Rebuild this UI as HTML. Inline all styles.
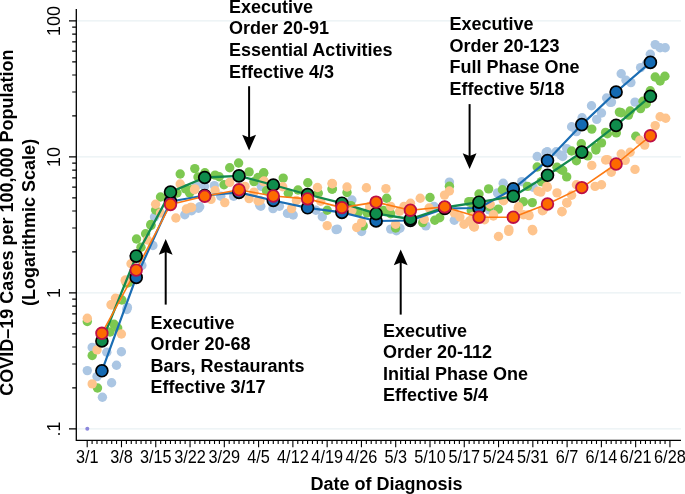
<!DOCTYPE html>
<html><head><meta charset="utf-8"><style>
html,body{margin:0;padding:0;background:#fff;width:685px;height:494px;overflow:hidden}
svg{display:block;will-change:transform}
text{font-family:"Liberation Sans",sans-serif;fill:#000}
.b{font-weight:bold;font-size:18px}
.yl{font-size:18px}
.xl{font-size:18px}
</style></head><body>
<svg width="685" height="494" viewBox="0 0 685 494">

<line x1="77" y1="20.9" x2="681" y2="20.9" stroke="#e9f1f3" stroke-width="1.3"/>
<line x1="77" y1="156.9" x2="681" y2="156.9" stroke="#e9f1f3" stroke-width="1.3"/>
<line x1="77" y1="292.9" x2="681" y2="292.9" stroke="#e9f1f3" stroke-width="1.3"/>
<line x1="77" y1="428.9" x2="681" y2="428.9" stroke="#e9f1f3" stroke-width="1.3"/>
<g fill="#abc6e3"><circle cx="92.2" cy="347.4" r="4.7"/><circle cx="106.8" cy="352.3" r="4.7"/><circle cx="121.4" cy="351.8" r="4.7"/><circle cx="87.3" cy="370.6" r="4.7"/><circle cx="116.5" cy="365.2" r="4.7"/><circle cx="97" cy="376.6" r="4.7"/><circle cx="111.6" cy="382.7" r="4.7"/><circle cx="102.4" cy="397.3" r="4.7"/><circle cx="126.8" cy="309.5" r="4.7"/><circle cx="152.9" cy="245.5" r="4.7"/><circle cx="141.9" cy="265.5" r="4.7"/><circle cx="127.4" cy="307.4" r="4.7"/><circle cx="154.5" cy="217" r="4.7"/><circle cx="184.8" cy="214.8" r="4.7"/><circle cx="198.5" cy="208.3" r="4.7"/><circle cx="214.3" cy="185.6" r="4.7"/><circle cx="196.5" cy="185.5" r="4.7"/><circle cx="204.5" cy="186.5" r="4.7"/><circle cx="220.8" cy="196.2" r="4.7"/><circle cx="199.7" cy="206.7" r="4.7"/><circle cx="191.6" cy="210.7" r="4.7"/><circle cx="233.7" cy="196.2" r="4.7"/><circle cx="259.6" cy="205" r="4.7"/><circle cx="261.3" cy="186.4" r="4.7"/><circle cx="260.8" cy="206.2" r="4.7"/><circle cx="273" cy="208.6" r="4.7"/><circle cx="279.4" cy="206.2" r="4.7"/><circle cx="287.5" cy="213.4" r="4.7"/><circle cx="293.2" cy="215" r="4.7"/><circle cx="322.3" cy="216.7" r="4.7"/><circle cx="336.1" cy="229.6" r="4.7"/><circle cx="315.9" cy="210.2" r="4.7"/><circle cx="351.9" cy="200" r="4.7"/><circle cx="337.3" cy="229.1" r="4.7"/><circle cx="361.6" cy="231.5" r="4.7"/><circle cx="390.7" cy="229.1" r="4.7"/><circle cx="396.4" cy="230.7" r="4.7"/><circle cx="378.6" cy="221.8" r="4.7"/><circle cx="449.4" cy="182.1" r="4.7"/><circle cx="434" cy="206.4" r="4.7"/><circle cx="454.3" cy="220.2" r="4.7"/><circle cx="425.9" cy="225.9" r="4.7"/><circle cx="400" cy="228.3" r="4.7"/><circle cx="537.2" cy="156.5" r="4.7"/><circle cx="546.1" cy="152.4" r="4.7"/><circle cx="503.2" cy="183.2" r="4.7"/><circle cx="521.8" cy="181.6" r="4.7"/><circle cx="497.5" cy="192.9" r="4.7"/><circle cx="533.2" cy="187.2" r="4.7"/><circle cx="489.4" cy="209.9" r="4.7"/><circle cx="471.6" cy="208.3" r="4.7"/><circle cx="591.5" cy="105.7" r="4.7"/><circle cx="610.4" cy="102.4" r="4.7"/><circle cx="601.5" cy="113" r="4.7"/><circle cx="596.7" cy="119.4" r="4.7"/><circle cx="582.1" cy="117.8" r="4.7"/><circle cx="571.6" cy="126.7" r="4.7"/><circle cx="576.4" cy="131.6" r="4.7"/><circle cx="566.7" cy="148.6" r="4.7"/><circle cx="561" cy="155.1" r="4.7"/><circle cx="547.3" cy="151.8" r="4.7"/><circle cx="556.2" cy="151.8" r="4.7"/><circle cx="562.7" cy="156.5" r="4.7"/><circle cx="655.2" cy="44.6" r="4.7"/><circle cx="660.1" cy="47.8" r="4.7"/><circle cx="665.2" cy="47.8" r="4.7"/><circle cx="650.3" cy="54.3" r="4.7"/><circle cx="640.6" cy="67.6" r="4.7"/><circle cx="646.3" cy="64" r="4.7"/><circle cx="621.2" cy="73.7" r="4.7"/><circle cx="626" cy="80.2" r="4.7"/><circle cx="630.9" cy="82.6" r="4.7"/><circle cx="606.6" cy="98" r="4.7"/><circle cx="611.5" cy="102.1" r="4.7"/><circle cx="635" cy="102.1" r="4.7"/></g>
<g fill="#7dc851"><circle cx="87.3" cy="321.5" r="4.7"/><circle cx="110" cy="332" r="4.7"/><circle cx="92.2" cy="355.5" r="4.7"/><circle cx="97.5" cy="388" r="4.7"/><circle cx="114" cy="324.3" r="4.7"/><circle cx="117.7" cy="328" r="4.7"/><circle cx="151" cy="225.5" r="4.7"/><circle cx="145.6" cy="233.7" r="4.7"/><circle cx="136.5" cy="239" r="4.7"/><circle cx="141" cy="247.3" r="4.7"/><circle cx="128.3" cy="282.8" r="4.7"/><circle cx="121.9" cy="300" r="4.7"/><circle cx="126.4" cy="283" r="4.7"/><circle cx="180.2" cy="174" r="4.7"/><circle cx="194.8" cy="168.6" r="4.7"/><circle cx="177" cy="193" r="4.7"/><circle cx="198" cy="177" r="4.7"/><circle cx="479" cy="194" r="4.7"/><circle cx="185.6" cy="188.9" r="4.7"/><circle cx="189.6" cy="193" r="4.7"/><circle cx="160.5" cy="197" r="4.7"/><circle cx="155.6" cy="210" r="4.7"/><circle cx="150.8" cy="224.5" r="4.7"/><circle cx="204.9" cy="172.7" r="4.7"/><circle cx="215.1" cy="175.1" r="4.7"/><circle cx="219.2" cy="176.7" r="4.7"/><circle cx="229.7" cy="167.8" r="4.7"/><circle cx="238.6" cy="163" r="4.7"/><circle cx="249.1" cy="171.9" r="4.7"/><circle cx="263.7" cy="172.7" r="4.7"/><circle cx="254" cy="181.6" r="4.7"/><circle cx="258" cy="177.5" r="4.7"/><circle cx="224" cy="184.8" r="4.7"/><circle cx="191.6" cy="189.7" r="4.7"/><circle cx="263.6" cy="173.3" r="4.7"/><circle cx="283.2" cy="178.1" r="4.7"/><circle cx="307.8" cy="182.7" r="4.7"/><circle cx="298" cy="190" r="4.7"/><circle cx="288.3" cy="193.2" r="4.7"/><circle cx="318.3" cy="193.2" r="4.7"/><circle cx="332" cy="189.1" r="4.7"/><circle cx="327.2" cy="210.2" r="4.7"/><circle cx="266.5" cy="190.8" r="4.7"/><circle cx="332.4" cy="189" r="4.7"/><circle cx="347" cy="192.5" r="4.7"/><circle cx="386.7" cy="198.3" r="4.7"/><circle cx="351" cy="205.6" r="4.7"/><circle cx="358.3" cy="212.1" r="4.7"/><circle cx="367.2" cy="212.9" r="4.7"/><circle cx="383.4" cy="210.5" r="4.7"/><circle cx="390.7" cy="213.7" r="4.7"/><circle cx="363.2" cy="225.9" r="4.7"/><circle cx="395.6" cy="228" r="4.7"/><circle cx="449.4" cy="186.2" r="4.7"/><circle cx="430" cy="197.5" r="4.7"/><circle cx="468.8" cy="201.6" r="4.7"/><circle cx="434.8" cy="220.2" r="4.7"/><circle cx="439.7" cy="217.8" r="4.7"/><circle cx="422.7" cy="222.6" r="4.7"/><circle cx="471.3" cy="210.5" r="4.7"/><circle cx="537.2" cy="167" r="4.7"/><circle cx="488.6" cy="188.9" r="4.7"/><circle cx="527.5" cy="186.4" r="4.7"/><circle cx="502.4" cy="189.7" r="4.7"/><circle cx="541.3" cy="181.6" r="4.7"/><circle cx="523.4" cy="201.8" r="4.7"/><circle cx="532.3" cy="202.6" r="4.7"/><circle cx="498.3" cy="209.1" r="4.7"/><circle cx="489.4" cy="206.7" r="4.7"/><circle cx="471.6" cy="201.8" r="4.7"/><circle cx="591.8" cy="129.1" r="4.7"/><circle cx="619.4" cy="112.1" r="4.7"/><circle cx="605.6" cy="132.4" r="4.7"/><circle cx="601.5" cy="142.9" r="4.7"/><circle cx="595.9" cy="147.8" r="4.7"/><circle cx="581.3" cy="143.7" r="4.7"/><circle cx="571.6" cy="151" r="4.7"/><circle cx="587.8" cy="155.9" r="4.7"/><circle cx="576.4" cy="160.7" r="4.7"/><circle cx="557" cy="167.2" r="4.7"/><circle cx="562.7" cy="170.4" r="4.7"/><circle cx="566.7" cy="176.9" r="4.7"/><circle cx="561" cy="169.4" r="4.7"/><circle cx="542.4" cy="181.6" r="4.7"/><circle cx="595.9" cy="150" r="4.7"/><circle cx="655.2" cy="77" r="4.7"/><circle cx="664.9" cy="76.2" r="4.7"/><circle cx="660.1" cy="81" r="4.7"/><circle cx="650.3" cy="90.7" r="4.7"/><circle cx="643" cy="101.3" r="4.7"/><circle cx="621.2" cy="112.7" r="4.7"/><circle cx="630.1" cy="111" r="4.7"/><circle cx="628.5" cy="115.1" r="4.7"/><circle cx="640.6" cy="108.6" r="4.7"/><circle cx="646.3" cy="103.8" r="4.7"/><circle cx="607.4" cy="133.7" r="4.7"/><circle cx="616.3" cy="132.9" r="4.7"/><circle cx="635.8" cy="136.2" r="4.7"/></g>
<g fill="#fec48d"><circle cx="87.3" cy="318.2" r="4.7"/><circle cx="97" cy="349.9" r="4.7"/><circle cx="92.2" cy="383.9" r="4.7"/><circle cx="121.4" cy="334" r="4.7"/><circle cx="111.6" cy="304.9" r="4.7"/><circle cx="116.7" cy="298.8" r="4.7"/><circle cx="125.2" cy="280.6" r="4.7"/><circle cx="147.4" cy="240" r="4.7"/><circle cx="131" cy="263.7" r="4.7"/><circle cx="125.5" cy="280" r="4.7"/><circle cx="115.5" cy="298.3" r="4.7"/><circle cx="111" cy="304.7" r="4.7"/><circle cx="180.2" cy="184" r="4.7"/><circle cx="194.5" cy="189.7" r="4.7"/><circle cx="155.6" cy="204.3" r="4.7"/><circle cx="160.5" cy="213" r="4.7"/><circle cx="186.4" cy="209" r="4.7"/><circle cx="190.4" cy="207.5" r="4.7"/><circle cx="175.9" cy="218" r="4.7"/><circle cx="229.7" cy="182.4" r="4.7"/><circle cx="194.9" cy="188.9" r="4.7"/><circle cx="215.1" cy="190.5" r="4.7"/><circle cx="245" cy="186.4" r="4.7"/><circle cx="254" cy="192.1" r="4.7"/><circle cx="263.7" cy="181.6" r="4.7"/><circle cx="249.1" cy="198.6" r="4.7"/><circle cx="258" cy="201" r="4.7"/><circle cx="224.8" cy="202.6" r="4.7"/><circle cx="191.6" cy="207.5" r="4.7"/><circle cx="211" cy="199.4" r="4.7"/><circle cx="264" cy="181" r="4.7"/><circle cx="282.7" cy="186.7" r="4.7"/><circle cx="317.5" cy="187.5" r="4.7"/><circle cx="332" cy="183.5" r="4.7"/><circle cx="291.6" cy="208.6" r="4.7"/><circle cx="296.4" cy="200.5" r="4.7"/><circle cx="320.7" cy="201.3" r="4.7"/><circle cx="327.2" cy="225.6" r="4.7"/><circle cx="260" cy="200.5" r="4.7"/><circle cx="332.4" cy="183.8" r="4.7"/><circle cx="347" cy="187" r="4.7"/><circle cx="366.4" cy="187.8" r="4.7"/><circle cx="385.9" cy="188.6" r="4.7"/><circle cx="351.9" cy="210.5" r="4.7"/><circle cx="369.7" cy="206.4" r="4.7"/><circle cx="390.7" cy="206.4" r="4.7"/><circle cx="399.6" cy="211.3" r="4.7"/><circle cx="356.7" cy="227.5" r="4.7"/><circle cx="361.6" cy="222.6" r="4.7"/><circle cx="395.6" cy="224.3" r="4.7"/><circle cx="449.4" cy="191" r="4.7"/><circle cx="444.5" cy="195.1" r="4.7"/><circle cx="490.2" cy="204.3" r="4.7"/><circle cx="420.2" cy="198.3" r="4.7"/><circle cx="410.5" cy="203.2" r="4.7"/><circle cx="404" cy="206.4" r="4.7"/><circle cx="429.1" cy="208" r="4.7"/><circle cx="424.3" cy="219.4" r="4.7"/><circle cx="454.3" cy="212.9" r="4.7"/><circle cx="459.9" cy="217" r="4.7"/><circle cx="464" cy="224.3" r="4.7"/><circle cx="473.7" cy="226.7" r="4.7"/><circle cx="469.6" cy="221" r="4.7"/><circle cx="538" cy="191.3" r="4.7"/><circle cx="546.9" cy="186.4" r="4.7"/><circle cx="503.2" cy="200.2" r="4.7"/><circle cx="518.6" cy="206.7" r="4.7"/><circle cx="523.4" cy="214.8" r="4.7"/><circle cx="529.1" cy="215.6" r="4.7"/><circle cx="542.9" cy="209.9" r="4.7"/><circle cx="493.5" cy="214.8" r="4.7"/><circle cx="473.2" cy="225.3" r="4.7"/><circle cx="508.9" cy="229.4" r="4.7"/><circle cx="532.3" cy="229.4" r="4.7"/><circle cx="473.2" cy="216.4" r="4.7"/><circle cx="474.4" cy="227" r="4.7"/><circle cx="498.5" cy="236.5" r="4.7"/><circle cx="508.7" cy="231.4" r="4.7"/><circle cx="532.8" cy="230.7" r="4.7"/><circle cx="562" cy="211.7" r="4.7"/><circle cx="567" cy="203" r="4.7"/><circle cx="493.4" cy="216" r="4.7"/><circle cx="484.6" cy="219.7" r="4.7"/><circle cx="518.2" cy="208" r="4.7"/><circle cx="528.4" cy="214.6" r="4.7"/><circle cx="543" cy="210.2" r="4.7"/><circle cx="503.6" cy="200.7" r="4.7"/><circle cx="591.8" cy="165.4" r="4.7"/><circle cx="605.6" cy="160" r="4.7"/><circle cx="611.3" cy="172.3" r="4.7"/><circle cx="547.3" cy="187.2" r="4.7"/><circle cx="557" cy="192.9" r="4.7"/><circle cx="571.6" cy="195.3" r="4.7"/><circle cx="576.4" cy="184.8" r="4.7"/><circle cx="595.1" cy="186.4" r="4.7"/><circle cx="601.5" cy="184.8" r="4.7"/><circle cx="566.7" cy="202.6" r="4.7"/><circle cx="561.9" cy="211.5" r="4.7"/><circle cx="542.4" cy="210.7" r="4.7"/><circle cx="540.8" cy="192.1" r="4.7"/><circle cx="660.1" cy="116.7" r="4.7"/><circle cx="665.7" cy="118.3" r="4.7"/><circle cx="655.2" cy="125.6" r="4.7"/><circle cx="639.8" cy="140.2" r="4.7"/><circle cx="644.7" cy="145.1" r="4.7"/><circle cx="621.2" cy="154" r="4.7"/><circle cx="630.1" cy="152.3" r="4.7"/><circle cx="625.2" cy="160.4" r="4.7"/><circle cx="607.4" cy="159.6" r="4.7"/><circle cx="635" cy="169.4" r="4.7"/></g>
<circle cx="87.3" cy="428.8" r="2" fill="#8b87dc"/>
<polyline points="101.9,370.8 136.2,277.4 170.5,201.5 204.7,195.5 239.0,192.4 273.3,200.5 307.6,207.8 341.9,212.4 376.1,221.0 410.4,220.5 444.7,208.5 479.0,208.0 513.3,188.9 547.5,160.6 581.8,124.6 616.1,92.0 650.4,62.4" fill="none" stroke="#1a6db4" stroke-width="2.2" stroke-linejoin="round"/>
<polyline points="101.9,341.0 136.2,256.1 170.5,192.1 204.7,177.5 239.0,175.9 273.3,185.0 307.6,194.5 341.9,203.2 376.1,213.7 410.4,219.0 444.7,207.5 479.0,202.2 513.3,196.3 547.5,175.3 581.8,152.1 616.1,125.4 650.4,96.3" fill="none" stroke="#13894e" stroke-width="2.3" stroke-linejoin="round"/>
<polyline points="101.9,333.3 136.2,270.1 170.5,204.5 204.7,196.2 239.0,189.8 273.3,196.0 307.6,198.9 341.9,207.6 376.1,202.1 410.4,210.2 444.7,206.9 479.0,217.2 513.3,217.2 547.5,204.0 581.8,187.6 616.1,164.0 650.4,135.8" fill="none" stroke="#fd7a12" stroke-width="1.6" stroke-linejoin="round"/>
<g fill="#146ab3" stroke="#000" stroke-width="1.7"><circle cx="101.9" cy="370.8" r="5.95"/><circle cx="136.2" cy="277.4" r="5.95"/><circle cx="170.5" cy="201.5" r="5.95"/><circle cx="204.7" cy="195.5" r="5.95"/><circle cx="239.0" cy="192.4" r="5.95"/><circle cx="273.3" cy="200.5" r="5.95"/><circle cx="307.6" cy="207.8" r="5.95"/><circle cx="341.9" cy="212.4" r="5.95"/><circle cx="376.1" cy="221.0" r="5.95"/><circle cx="410.4" cy="220.5" r="5.95"/><circle cx="444.7" cy="208.5" r="5.95"/><circle cx="479.0" cy="208.0" r="5.95"/><circle cx="513.3" cy="188.9" r="5.95"/><circle cx="547.5" cy="160.6" r="5.95"/><circle cx="581.8" cy="124.6" r="5.95"/><circle cx="616.1" cy="92.0" r="5.95"/><circle cx="650.4" cy="62.4" r="5.95"/></g>
<g fill="#0f8c4c" stroke="#000" stroke-width="1.7"><circle cx="101.9" cy="341.0" r="5.95"/><circle cx="136.2" cy="256.1" r="5.95"/><circle cx="170.5" cy="192.1" r="5.95"/><circle cx="204.7" cy="177.5" r="5.95"/><circle cx="239.0" cy="175.9" r="5.95"/><circle cx="273.3" cy="185.0" r="5.95"/><circle cx="307.6" cy="194.5" r="5.95"/><circle cx="341.9" cy="203.2" r="5.95"/><circle cx="376.1" cy="213.7" r="5.95"/><circle cx="410.4" cy="219.0" r="5.95"/><circle cx="444.7" cy="207.5" r="5.95"/><circle cx="479.0" cy="202.2" r="5.95"/><circle cx="513.3" cy="196.3" r="5.95"/><circle cx="547.5" cy="175.3" r="5.95"/><circle cx="581.8" cy="152.1" r="5.95"/><circle cx="616.1" cy="125.4" r="5.95"/><circle cx="650.4" cy="96.3" r="5.95"/></g>
<g fill="#fd6a00" stroke="#bd0f45" stroke-width="1.8"><circle cx="101.9" cy="333.3" r="5.8"/><circle cx="136.2" cy="270.1" r="5.8"/><circle cx="170.5" cy="204.5" r="5.8"/><circle cx="204.7" cy="196.2" r="5.8"/><circle cx="239.0" cy="189.8" r="5.8"/><circle cx="273.3" cy="196.0" r="5.8"/><circle cx="307.6" cy="198.9" r="5.8"/><circle cx="341.9" cy="207.6" r="5.8"/><circle cx="376.1" cy="202.1" r="5.8"/><circle cx="410.4" cy="210.2" r="5.8"/><circle cx="444.7" cy="206.9" r="5.8"/><circle cx="479.0" cy="217.2" r="5.8"/><circle cx="513.3" cy="217.2" r="5.8"/><circle cx="547.5" cy="204.0" r="5.8"/><circle cx="581.8" cy="187.6" r="5.8"/><circle cx="616.1" cy="164.0" r="5.8"/><circle cx="650.4" cy="135.8" r="5.8"/></g>
<path d="M76.3 9 V440.3 H681" fill="none" stroke="#000" stroke-width="1.3"/>
<path d="M72.2 387.96H76.3M72.2 364.01H76.3M72.2 347.02H76.3M72.2 333.84H76.3M72.2 323.07H76.3M72.2 313.97H76.3M72.2 306.08H76.3M72.2 299.12H76.3M72.2 251.96H76.3M72.2 228.01H76.3M72.2 211.02H76.3M72.2 197.84H76.3M72.2 187.07H76.3M72.2 177.97H76.3M72.2 170.08H76.3M72.2 163.12H76.3M72.2 115.96H76.3M72.2 92.01H76.3M72.2 75.02H76.3M72.2 61.84H76.3M72.2 51.07H76.3M72.2 41.97H76.3M72.2 34.08H76.3M72.2 27.12H76.3M69 428.90H76.3M69 292.90H76.3M69 156.90H76.3M69 20.90H76.3" stroke="#000" stroke-width="1.2"/>
<path d="M87.20 440.3V447.2M92.10 440.3V444M96.99 440.3V444M101.89 440.3V444M106.79 440.3V444M111.69 440.3V444M116.58 440.3V444M121.48 440.3V447.2M126.38 440.3V444M131.27 440.3V444M136.17 440.3V444M141.07 440.3V444M145.96 440.3V444M150.86 440.3V444M155.76 440.3V447.2M160.66 440.3V444M165.55 440.3V444M170.45 440.3V444M175.35 440.3V444M180.24 440.3V444M185.14 440.3V444M190.04 440.3V447.2M194.93 440.3V444M199.83 440.3V444M204.73 440.3V444M209.62 440.3V444M214.52 440.3V444M219.42 440.3V444M224.32 440.3V447.2M229.21 440.3V444M234.11 440.3V444M239.01 440.3V444M243.90 440.3V444M248.80 440.3V444M253.70 440.3V444M258.60 440.3V447.2M263.49 440.3V444M268.39 440.3V444M273.29 440.3V444M278.18 440.3V444M283.08 440.3V444M287.98 440.3V444M292.87 440.3V447.2M297.77 440.3V444M302.67 440.3V444M307.56 440.3V444M312.46 440.3V444M317.36 440.3V444M322.26 440.3V444M327.15 440.3V447.2M332.05 440.3V444M336.95 440.3V444M341.84 440.3V444M346.74 440.3V444M351.64 440.3V444M356.54 440.3V444M361.43 440.3V447.2M366.33 440.3V444M371.23 440.3V444M376.12 440.3V444M381.02 440.3V444M385.92 440.3V444M390.81 440.3V444M395.71 440.3V447.2M400.61 440.3V444M405.50 440.3V444M410.40 440.3V444M415.30 440.3V444M420.20 440.3V444M425.09 440.3V444M429.99 440.3V447.2M434.89 440.3V444M439.78 440.3V444M444.68 440.3V444M449.58 440.3V444M454.48 440.3V444M459.37 440.3V444M464.27 440.3V447.2M469.17 440.3V444M474.06 440.3V444M478.96 440.3V444M483.86 440.3V444M488.75 440.3V444M493.65 440.3V444M498.55 440.3V447.2M503.44 440.3V444M508.34 440.3V444M513.24 440.3V444M518.14 440.3V444M523.03 440.3V444M527.93 440.3V444M532.83 440.3V447.2M537.72 440.3V444M542.62 440.3V444M547.52 440.3V444M552.42 440.3V444M557.31 440.3V444M562.21 440.3V444M567.11 440.3V447.2M572.00 440.3V444M576.90 440.3V444M581.80 440.3V444M586.69 440.3V444M591.59 440.3V444M596.49 440.3V444M601.39 440.3V447.2M606.28 440.3V444M611.18 440.3V444M616.08 440.3V444M620.97 440.3V444M625.87 440.3V444M630.77 440.3V444M635.66 440.3V447.2M640.56 440.3V444M645.46 440.3V444M650.36 440.3V444M655.25 440.3V444M660.15 440.3V444M665.05 440.3V444M669.94 440.3V447.2" stroke="#000" stroke-width="1.1"/>
<text class="yl" text-anchor="middle" transform="translate(60,20.9) rotate(-90)">100</text>
<text class="yl" text-anchor="middle" transform="translate(60,156.9) rotate(-90)">10</text>
<text class="yl" text-anchor="middle" transform="translate(60,292.9) rotate(-90)">1</text>
<text class="yl" text-anchor="middle" transform="translate(60,428.9) rotate(-90)">.1</text>
<text class="xl" text-anchor="middle" transform="translate(87.2,463) scale(0.905,1)">3/1</text>
<text class="xl" text-anchor="middle" transform="translate(121.5,463) scale(0.905,1)">3/8</text>
<text class="xl" text-anchor="middle" transform="translate(155.8,463) scale(0.905,1)">3/15</text>
<text class="xl" text-anchor="middle" transform="translate(190.0,463) scale(0.905,1)">3/22</text>
<text class="xl" text-anchor="middle" transform="translate(224.3,463) scale(0.905,1)">3/29</text>
<text class="xl" text-anchor="middle" transform="translate(258.6,463) scale(0.905,1)">4/5</text>
<text class="xl" text-anchor="middle" transform="translate(292.9,463) scale(0.905,1)">4/12</text>
<text class="xl" text-anchor="middle" transform="translate(327.2,463) scale(0.905,1)">4/19</text>
<text class="xl" text-anchor="middle" transform="translate(361.4,463) scale(0.905,1)">4/26</text>
<text class="xl" text-anchor="middle" transform="translate(395.7,463) scale(0.905,1)">5/3</text>
<text class="xl" text-anchor="middle" transform="translate(430.0,463) scale(0.905,1)">5/10</text>
<text class="xl" text-anchor="middle" transform="translate(464.3,463) scale(0.905,1)">5/17</text>
<text class="xl" text-anchor="middle" transform="translate(498.5,463) scale(0.905,1)">5/24</text>
<text class="xl" text-anchor="middle" transform="translate(532.8,463) scale(0.905,1)">5/31</text>
<text class="xl" text-anchor="middle" transform="translate(567.1,463) scale(0.905,1)">6/7</text>
<text class="xl" text-anchor="middle" transform="translate(601.4,463) scale(0.905,1)">6/14</text>
<text class="xl" text-anchor="middle" transform="translate(635.7,463) scale(0.905,1)">6/21</text>
<text class="xl" text-anchor="middle" transform="translate(669.9,463) scale(0.905,1)">6/28</text>
<text class="b" text-anchor="middle" x="386.5" y="489.8">Date of Diagnosis</text>
<text class="b" text-anchor="middle" transform="translate(13.0,222.6) rotate(-90)">COVID–19 Cases per 100,000 Population</text>
<text class="b" text-anchor="middle" transform="translate(34.5,222.4) rotate(-90)">(Logarithmic Scale)</text>
<text class="b" x="229" y="12.9">Executive</text><text class="b" x="229" y="34.2">Order 20-91</text><text class="b" x="229" y="55.9">Essential Activities</text><text class="b" x="229" y="77.5">Effective 4/3</text>
<text class="b" x="449.4" y="30.1">Executive</text><text class="b" x="449.4" y="51.7">Order 20-123</text><text class="b" x="449.4" y="73.0">Full Phase One</text><text class="b" x="449.4" y="94.6">Effective 5/18</text>
<text class="b" x="150.4" y="328.6">Executive</text><text class="b" x="150.4" y="350.4">Order 20-68</text><text class="b" x="150.4" y="371.5">Bars, Restaurants</text><text class="b" x="150.4" y="393.1">Effective 3/17</text>
<text class="b" x="383" y="337">Executive</text><text class="b" x="383" y="358.3">Order 20-112</text><text class="b" x="383" y="380">Initial Phase One</text><text class="b" x="383" y="401.3">Effective 5/4</text>
<line x1="249.1" y1="86.2" x2="249.1" y2="140.6" stroke="#000" stroke-width="2"/><path d="M249.1 150.6 L242.2 134.79999999999998 L249.1 137.6 L256.0 134.79999999999998 Z" fill="#000"/>
<line x1="469.6" y1="104.1" x2="469.6" y2="159" stroke="#000" stroke-width="2"/><path d="M469.6 169 L462.70000000000005 153.2 L469.6 156 L476.5 153.2 Z" fill="#000"/>
<line x1="165.7" y1="304.6" x2="165.7" y2="248.9" stroke="#000" stroke-width="2"/><path d="M165.7 238.9 L158.79999999999998 254.70000000000002 L165.7 251.9 L172.6 254.70000000000002 Z" fill="#000"/>
<line x1="400.7" y1="314.6" x2="400.7" y2="259.4" stroke="#000" stroke-width="2"/><path d="M400.7 249.4 L393.8 265.2 L400.7 262.4 L407.59999999999997 265.2 Z" fill="#000"/>
</svg></body></html>
